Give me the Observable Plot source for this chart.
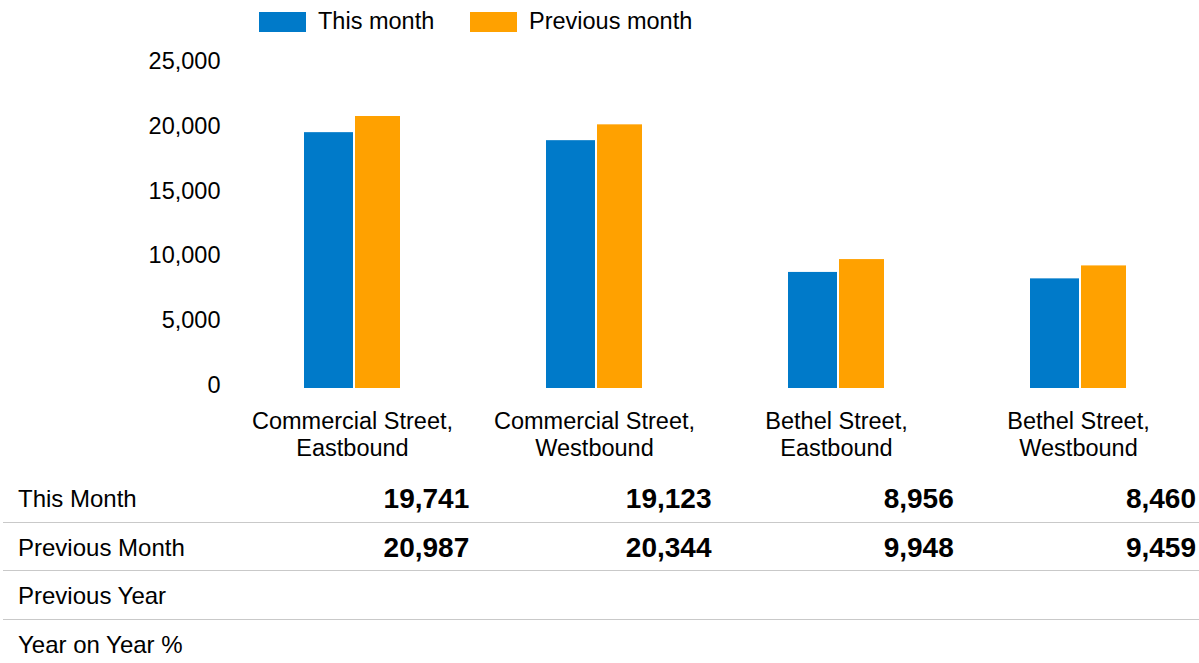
<!DOCTYPE html>
<html>
<head>
<meta charset="utf-8">
<script src="https://cdn.jsdelivr.net/npm/d3@7"></script>
<script src="https://cdn.jsdelivr.net/npm/@observablehq/plot@0.6"></script>
<style>
  html, body { margin: 0; padding: 0; background: #fff; }
  body { width: 1199px; height: 663px; overflow: hidden; font-family: "Liberation Sans", Arial, sans-serif; color: #000; }
  #legend { height: 42px; position: relative; font-size: 23.5px; }
  .sw { position: absolute; top: 12px; width: 47px; height: 20px; }
  .lt { position: absolute; top: 6px; line-height: 30px; white-space: nowrap; }
  #chart svg { display: block; }
  #table { width: 1199px; }
  .row { display: grid; grid-template-columns: 230px repeat(4, 242.25px); height: 48.5px; align-items: center; box-sizing: border-box; }
  .row.sep { border-bottom: 1.5px solid #c9c9c9; margin-left: 3px; }
  .row.sep .lbl { margin-left: -3px; }
  .lbl { font-size: 24px; padding-left: 18px; padding-top: 3px; }
  .val { font-size: 28px; font-weight: bold; text-align: right; padding-right: 6px; padding-top: 3px; }
</style>
</head>
<body>
<div id="legend"></div>
<div id="chart"></div>
<div id="table"></div>
<script>
const categories = [
  "Commercial Street,\nEastbound",
  "Commercial Street,\nWestbound",
  "Bethel Street,\nEastbound",
  "Bethel Street,\nWestbound"
];
const thisMonth = [19741, 19123, 8956, 8460];
const previousMonth = [20987, 20344, 9948, 9459];
const seriesNames = ["This month", "Previous month"];
const seriesColors = ["#007AC9", "#FFA100"];
const yTicks = [0, 5000, 10000, 15000, 20000, 25000];
const rowLabels = ["This Month", "Previous Month", "Previous Year", "Year on Year %"];

const fmt = d3.format(",");

// legend
const legend = document.getElementById("legend");
const legendPos = [[259, 318], [470, 529]];
seriesNames.forEach((name, i) => {
  const sw = document.createElement("div");
  sw.className = "sw";
  sw.style.left = legendPos[i][0] + "px";
  sw.style.background = seriesColors[i];
  legend.appendChild(sw);
  const t = document.createElement("div");
  t.className = "lt";
  t.style.left = legendPos[i][1] + "px";
  t.textContent = name;
  legend.appendChild(t);
});

const dataThis = categories.map((c, i) => ({category: c, value: thisMonth[i]}));
const dataPrev = categories.map((c, i) => ({category: c, value: previousMonth[i]}));

const chart = Plot.plot({
  width: 1199,
  height: 432,
  marginLeft: 230,
  marginRight: 0,
  marginTop: 22,
  marginBottom: 86,
  style: {fontFamily: "'Liberation Sans', Arial, sans-serif", fontSize: "23.5px", color: "#000", background: "#fff"},
  x: {domain: categories, paddingInner: 0.6037, paddingOuter: 0.3018, label: null},
  y: {domain: [0, 25000], label: null},
  marks: [
    Plot.barY(dataThis, {x: "category", y: "value", fill: seriesColors[0], insetRight: 47, insetLeft: 0}),
    Plot.barY(dataPrev, {x: "category", y: "value", fill: seriesColors[1], insetLeft: 51, insetRight: 0}),
    Plot.axisY({ticks: yTicks, tickFormat: fmt, tickSize: 0, tickPadding: 10, dy: -3, fontSize: 23.5, label: null}),
    Plot.axisX({tickSize: 0, tickPadding: 21, fontSize: 23.5, lineHeight: 1.15, label: null})
  ]
});
document.getElementById("chart").appendChild(chart);

// table
const table = document.getElementById("table");
const rowValues = [thisMonth, previousMonth, null, null];
rowLabels.forEach((lab, r) => {
  const row = document.createElement("div");
  row.className = "row" + (r < 3 ? " sep" : "");
  const l = document.createElement("div");
  l.className = "lbl";
  l.textContent = lab;
  row.appendChild(l);
  categories.forEach((c, i) => {
    const v = document.createElement("div");
    v.className = "val";
    v.textContent = rowValues[r] ? fmt(rowValues[r][i]) : "";
    row.appendChild(v);
  });
  table.appendChild(row);
});
</script>
</body>
</html>
